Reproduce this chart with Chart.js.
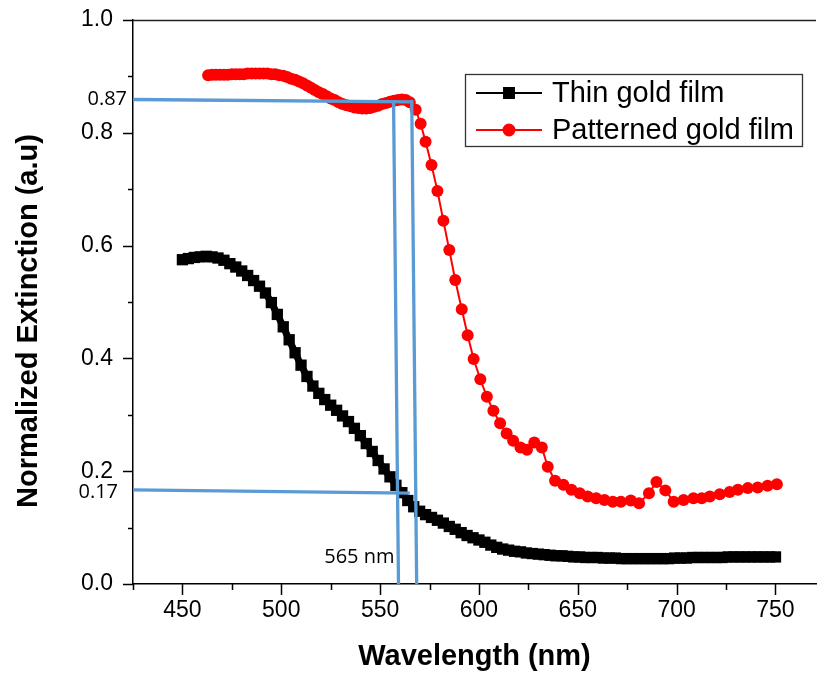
<!DOCTYPE html>
<html><head><meta charset="utf-8">
<script src="https://cdn.jsdelivr.net/npm/chart.js@4.4.1/dist/chart.umd.min.js"></script>
<style>html,body{margin:0;padding:0;background:#fff;}canvas{display:block;}</style>
</head><body>
<canvas id="c" width="824" height="677"></canvas>
<script>
// ---------- data ----------
const thinLabel = 'Thin gold film';
const patLabel = 'Patterned gold film';
const xTitle = 'Wavelength (nm)';
const yTitle = 'Normalized Extinction (a.u)';

const thinX = [
  450,453,456,459,462,465,468,471,474,477,
  480,483,486,489,492,495,498,501,504,507,
  510,513,516,519,522,525,528,531,534,537,
  540,543,546,549,552,555,558,561,564,567,
  570,573,576,579,582,585,588,591,594,597,
  600,603,606,609,612,615,618,621,624,627,
  630,633,636,639,642,645,648,651,654,657,
  660,663,666,669,672,675,678,681,684,687,
  690,693,696,699,702,705,708,711,714,717,
  720,723,726,729,732,735,738,741,744,747,
  750];
const thinY = [
  .575,.577,.579,.580,.581,.580,.578,.574,.568,.562,
  .555,.547,.538,.528,.516,.499,.478,.456,.433,.410,
  .388,.368,.351,.338,.327,.317,.308,.298,.288,.276,
  .263,.249,.235,.219,.204,.190,.175,.162,.148,.137,
  .129,.123,.118,.113,.108,.102,.097,.091,.086,.082,
  .078,.074,.069,.065,.062,.060,.058,.057,.055,.054,
  .053,.052,.051,.050,.050,.049,.048,.048,.047,.047,
  .047,.046,.046,.046,.045,.045,.045,.045,.045,.045,
  .045,.045,.045,.046,.046,.046,.047,.047,.047,.047,
  .047,.047,.048,.048,.048,.048,.048,.048,.048,.048,
  .048];

const patX = [
  463,465,467,469,471,473,475,477,479,481,
  483,485,487,489,491,493,495,497,499,501,
  503,505,507,509,511,513,515,517,519,521,
  523,525,527,529,531,533,535,537,539,541,
  543,545,547,549,551,553,555,557,559,561,
  563,565,568,570.5,573,576,579,582,585,588,
  591.3,594.3,597.3,600.7,604,607.3,610.7,614,617.3,621,
  624.3,628,631.8,634.8,638.5,642.7,646.8,651,655,659.3,
  663.5,667.7,671.8,676.8,681,686,689.8,694.3,698.5,703.5,
  708.5,712.7,716.8,721.8,726.8,731,736,741,746,750.7];
const patY = [
  .902,.903,.903,.903,.903,.903,.904,.904,.904,.904,
  .905,.905,.905,.905,.905,.905,.904,.904,.902,.901,
  .899,.896,.894,.891,.888,.884,.880,.876,.872,.869,
  .865,.861,.858,.854,.851,.849,.847,.845,.844,.843,
  .843,.844,.846,.848,.851,.853,.855,.857,.858,.859,
  .858,.854,.841,.816,.784,.743,.697,.644,.592,.539,
  .487,.441,.399,.363,.332,.307,.285,.267,.254,.242,
  .238,.251,.242,.208,.183,.176,.167,.161,.155,.152,
  .149,.146,.146,.148,.143,.161,.181,.166,.146,.149,
  .152,.152,.155,.159,.163,.167,.170,.171,.174,.177];

// axis ticks
const xTickValues = [425,450,475,500,525,550,575,600,625,650,675,700,725,750];
const xLabelStep = 50;
const yTickValues = [0,0.1,0.2,0.3,0.4,0.5,0.6,0.7,0.8,0.9,1.0];
const yLabelStep = 0.2;

// hand-drawn guide lines (data units)
const guideTopX = [425, 566.8];   const guideTopY = [0.859, 0.855];
const guideLowX = [425, 565];     const guideLowY = [0.167, 0.161];
const guideV1X  = [556.8, 559.3]; const guideV1Y  = [0.858, 0];
const guideV2X  = [566, 568.5];   const guideV2Y  = [0.858, 0];
// guide annotation labels
const guideLabelTexts = ['0.87', '0.17', '565 nm'];
const guideLabelX = [null, null, 557.3];
const guideLabelY = [0.860, 0.162, 0.047];

// ---------- chart ----------
const FONT = "'Liberation Sans', Arial, sans-serif";
const BLUE = '#5B9BD5';
Chart.defaults.font.family = FONT;
Chart.defaults.color = '#000';

const pts = (xs, ys) => xs.map((x, i) => ({x: x, y: ys[i]}));
const guide = (xs, ys) => ({
  label: '', data: pts(xs, ys), showLine: true, borderColor: BLUE, backgroundColor: BLUE,
  borderWidth: 3.3, pointRadius: 0, order: 0, isGuide: true
});

const isMult = (v, s) => Math.abs(v / s - Math.round(v / s)) < 1e-6;

const extras = {
  id: 'extras',
  afterDraw(chart) {
    const ctx = chart.ctx, ca = chart.chartArea;
    const xs = chart.scales.x, ys = chart.scales.y;
    ctx.save();
    // top frame line
    ctx.strokeStyle = '#222'; ctx.lineWidth = 1.5;
    ctx.beginPath(); ctx.moveTo(ca.left, ca.top + 0.5); ctx.lineTo(ca.right, ca.top + 0.5); ctx.stroke();
    // tick marks
    ctx.strokeStyle = '#000'; ctx.lineWidth = 1.5;
    xTickValues.forEach(v => {
      const px = Math.round(xs.getPixelForValue(v)) + 0.5;
      const len = isMult(v, xLabelStep) ? 11 : 6;
      ctx.beginPath(); ctx.moveTo(px, ca.bottom); ctx.lineTo(px, ca.bottom + len); ctx.stroke();
    });
    yTickValues.forEach(v => {
      const py = Math.round(ys.getPixelForValue(v)) + 0.5;
      const len = isMult(v, yLabelStep) ? 10 : 5;
      ctx.beginPath(); ctx.moveTo(ca.left - len, py); ctx.lineTo(ca.left, py); ctx.stroke();
    });
    // y title
    ctx.fillStyle = '#000';
    ctx.font = 'bold 29px ' + FONT;
    ctx.textAlign = 'center'; ctx.textBaseline = 'middle';
    ctx.save();
    ctx.translate(29, (ys.getPixelForValue(0) + ys.getPixelForValue(1)) / 2 + 19);
    ctx.rotate(-Math.PI / 2);
    ctx.fillText(yTitle, 0, 0);
    ctx.restore();
    // guide labels
    ctx.font = "20px 'Open Sans', " + FONT;
    ctx.textAlign = 'right'; ctx.textBaseline = 'middle';
    guideLabelTexts.forEach((t, i) => {
      const px = guideLabelX[i] === null ? ca.left - (i === 0 ? 6 : 15) : xs.getPixelForValue(guideLabelX[i]);
      const py = ys.getPixelForValue(guideLabelY[i]);
      ctx.fillText(t, px, py);
    });
    // legend
    const box = {l: 465.5, t: 74.5, w: 337, h: 72};
    ctx.strokeStyle = '#333'; ctx.lineWidth = 1.3;
    ctx.strokeRect(box.l, box.t, box.w, box.h);
    const rows = [93, 130];
    chart.data.datasets.filter(d => !d.isGuide).forEach((d, i) => {
      const y = rows[i];
      ctx.strokeStyle = d.pointBorderColor; ctx.lineWidth = 2;
      ctx.beginPath(); ctx.moveTo(476, y); ctx.lineTo(542, y); ctx.stroke();
      ctx.fillStyle = d.pointBackgroundColor; ctx.strokeStyle = d.pointBorderColor;
      Chart.helpers.drawPoint(ctx, {pointStyle: d.pointStyle, radius: d.pointStyle === 'rect' ? 7 : 5.5, rotation: 0, borderWidth: 1}, 509, y);
      ctx.fillStyle = '#000';
      ctx.font = '29px ' + FONT;
      ctx.textAlign = 'left'; ctx.textBaseline = 'middle';
      ctx.fillText(d.label, 552, y + 1);
    });
    ctx.restore();
  }
};

const hiddenTicks = len => ({display: true, drawOnChartArea: false, drawTicks: true, tickLength: len,
                             tickColor: 'rgba(0,0,0,0)', color: 'rgba(0,0,0,0)'});

new Chart(document.getElementById('c'), {
  type: 'scatter',
  data: {
    datasets: [
      { label: thinLabel, data: pts(thinX, thinY), showLine: true, borderColor: '#000', borderWidth: 7,
        pointStyle: 'rect', pointRadius: 8, pointBackgroundColor: '#000', pointBorderColor: '#000',
        pointBorderWidth: 0, order: 2 },
      { label: patLabel, data: pts(patX, patY), showLine: true, borderColor: '#FF0000', borderWidth: 2,
        pointStyle: 'circle', pointRadius: 6, pointBackgroundColor: '#FF0000', pointBorderColor: '#FF0000',
        pointBorderWidth: 0, order: 1 },
      guide(guideTopX, guideTopY),
      guide(guideLowX, guideLowY),
      guide(guideV1X, guideV1Y),
      guide(guideV2X, guideV2Y)
    ]
  },
  options: {
    responsive: false, animation: false, devicePixelRatio: 1,
    layout: {padding: {top: 20, left: 0, right: 0, bottom: 0}},
    plugins: {legend: {display: false}, tooltip: {enabled: false}},
    scales: {
      x: {
        type: 'linear', min: 425, max: 770.5,
        afterBuildTicks: s => { s.ticks = xTickValues.concat([s.max]).map(v => ({value: v})); },
        afterFit: s => { s.height = 93; },
        grid: hiddenTicks(13),
        border: {display: true, color: '#000', width: 1.5},
        ticks: {padding: 0, color: '#000', font: {size: 23}, maxRotation: 0, autoSkip: false,
                callback: v => isMult(v, xLabelStep) ? String(v) : ''},
        title: {display: true, text: xTitle, color: '#000', font: {size: 29, weight: 'bold'}, padding: {top: 0, bottom: 3}}
      },
      y: {
        type: 'linear', min: 0, max: 1,
        afterBuildTicks: s => { s.ticks = yTickValues.map(v => ({value: v})); },
        afterFit: s => { s.width = 133; },
        grid: hiddenTicks(20),
        border: {display: true, color: '#000', width: 1.5},
        ticks: {padding: 0, color: '#000', font: {size: 23}, autoSkip: false,
                callback: v => isMult(v, yLabelStep) ? v.toFixed(1) : ''}
      }
    }
  },
  plugins: [extras]
});
</script>
</body></html>
